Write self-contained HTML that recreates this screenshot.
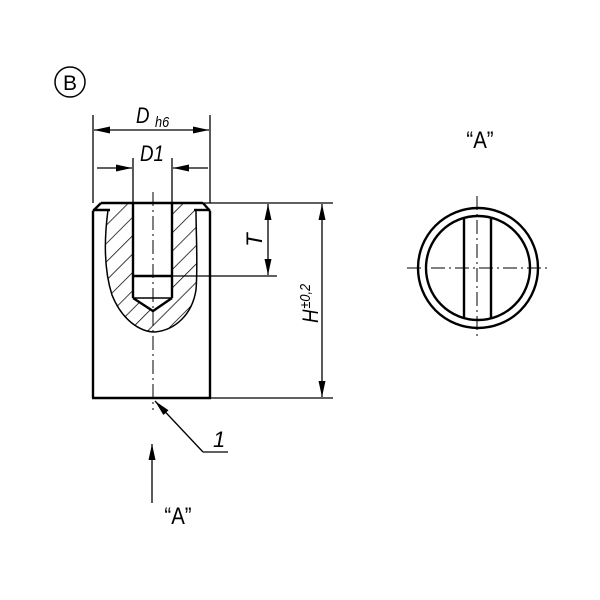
<!DOCTYPE html><html><head><style>body{margin:0;background:#fff}svg{display:block}</style></head><body>
<svg width="600" height="600" viewBox="0 0 600 600" xmlns="http://www.w3.org/2000/svg" font-family="Liberation Sans, sans-serif" fill="none" stroke="#000">
<defs>
<pattern id="h" patternUnits="userSpaceOnUse" width="13" height="13" patternTransform="rotate(45)"><line x1="0" y1="0" x2="0" y2="13" stroke="#000" stroke-width="1.5"/></pattern>
<marker id="a" markerWidth="16" markerHeight="7" refX="16" refY="3.5" orient="auto" markerUnits="userSpaceOnUse"><path d="M0,0L16,3.5L0,7z" fill="#000" stroke="none"/></marker>
</defs>
<circle cx="70" cy="82" r="15" stroke-width="1.5"/>
<text x="70" y="90" font-size="21" text-anchor="middle" fill="#000" stroke="none">B</text>
<path d="M110,204 L108,210 C104,240 104,270 112,295 C122,320 140,332 155,332 C175,330 192,315 196,290 C198,265 196,235 196,210 L194,204 Z M133,204 L133,276 L133,298 L153,312 L172,298 L172,204 Z" fill="url(#h)" fill-rule="evenodd" stroke="none"/>
<path d="M108,210 C104,240 104,270 112,295 C122,320 140,332 155,332 C175,330 192,315 196,290 C198,265 196,235 196,210" stroke-width="1.5"/>
<g stroke-width="2.4">
<line x1="93" y1="211" x2="93" y2="398"/><line x1="210" y1="211" x2="210" y2="398"/>
<line x1="92" y1="398" x2="211" y2="398"/>
<line x1="101" y1="203" x2="203" y2="203"/>
<line x1="93" y1="211" x2="101" y2="203"/><line x1="210" y1="211" x2="203" y2="203"/>
<line x1="93" y1="210" x2="110" y2="210"/><line x1="194" y1="210" x2="210" y2="210"/>
<line x1="133" y1="203" x2="133" y2="298"/><line x1="172" y1="203" x2="172" y2="298"/>
<line x1="133" y1="276" x2="172" y2="276"/>
<path d="M133,298 L153,311 L172,298"/>
</g>
<line x1="133" y1="298" x2="172" y2="298" stroke-width="1.5"/>
<line x1="153" y1="192" x2="153" y2="410" stroke-width="1" stroke-dasharray="14,4,2,4"/>
<g stroke-width="1.3">
<line x1="93" y1="115" x2="93" y2="203"/><line x1="210" y1="115" x2="210" y2="203"/>
<line x1="151" y1="130" x2="94" y2="130" marker-end="url(#a)"/><line x1="151" y1="130" x2="209" y2="130" marker-end="url(#a)"/>
<line x1="133" y1="158" x2="133" y2="203"/><line x1="172" y1="158" x2="172" y2="203"/>
<line x1="97" y1="168" x2="132" y2="168" marker-end="url(#a)"/><line x1="208" y1="168" x2="173" y2="168" marker-end="url(#a)"/>
<line x1="203" y1="203" x2="333" y2="203"/>
<line x1="172" y1="276" x2="277" y2="276"/>
<line x1="210" y1="398" x2="333" y2="398"/>
<line x1="268" y1="240" x2="268" y2="204" marker-end="url(#a)"/><line x1="268" y1="240" x2="268" y2="275" marker-end="url(#a)"/>
<line x1="322" y1="300" x2="322" y2="204" marker-end="url(#a)"/><line x1="322" y1="300" x2="322" y2="397" marker-end="url(#a)"/>
<polyline points="203,452 228,452"/>
<line x1="203" y1="452" x2="155" y2="401" marker-end="url(#a)"/>
<line x1="152" y1="503" x2="152" y2="444" marker-end="url(#a)"/>
</g>
<g fill="#000" stroke="none" font-style="italic">
<text x="136" y="123" font-size="22" transform="translate(136 0) scale(0.85 1) translate(-136 0)">D</text><text x="155" y="127" font-size="15" transform="translate(155 0) scale(0.85 1) translate(-155 0)">h6</text>
<text x="140" y="161" font-size="22" transform="translate(140 0) scale(0.85 1) translate(-140 0)">D1</text>
<text x="262" y="240" font-size="22" transform="rotate(-90 262 240)" text-anchor="middle">T</text>
<text x="213" y="447" font-size="22">1</text>
<g transform="translate(318,323) rotate(-90) scale(0.85 1)"><text x="0" y="0" font-size="22">H</text><text x="17" y="-8" font-size="15">±0,2</text></g>
</g>
<text x="178" y="524" font-size="24" text-anchor="middle" fill="#000" stroke="none" transform="translate(178 0) scale(0.85 1) translate(-178 0)">“A”</text>
<text x="480" y="148" font-size="24" text-anchor="middle" fill="#000" stroke="none" transform="translate(480 0) scale(0.85 1) translate(-480 0)">“A”</text>
<g stroke-width="2.4">
<circle cx="478" cy="268" r="60"/>
<circle cx="478" cy="268" r="52"/>
<line x1="464" y1="218" x2="464" y2="318"/><line x1="491" y1="218" x2="491" y2="318"/>
</g>
<g stroke-width="1" stroke-dasharray="14,4,2,4">
<line x1="407" y1="268" x2="550" y2="268"/>
<line x1="477" y1="196" x2="477" y2="340"/>
</g>
</svg></body></html>
